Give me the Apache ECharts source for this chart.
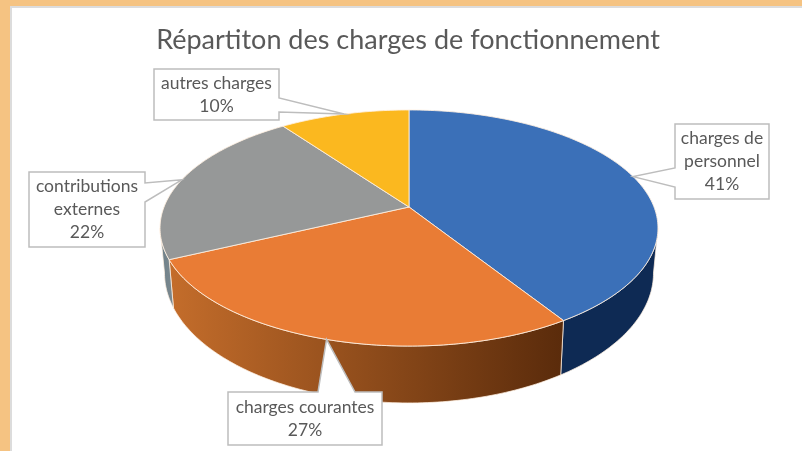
<!DOCTYPE html>
<html>
<head>
<meta charset="utf-8">
<style>
html, body { margin: 0; padding: 0; background: #fff; }
#chart { width: 802px; height: 451px; }
</style>
<script src="https://cdn.jsdelivr.net/npm/echarts@6/dist/echarts.min.js"></script>
</head>
<body>
<div id="chart"></div>
<script>
// data
const categories = ['charges de\npersonnel', 'charges courantes', 'contributions\nexternes', 'autres charges']
const values = [41, 27, 22, 10]

// slice colours
const topColors = ['#3b70b8', '#e97c35', '#969898', '#fbb81f']
const wallColors = [
    ['#0e2a54', '#0e2a54'],
    ['#c46d2b', '#5a2b0b'],
    ['#6d7f88', '#7d8a90'],
    ['#b98a16', '#b98a16']
]

// callout boxes: x, y, w, h, side of the pointer, pointer base on that side
const boxes = [
    { x: 675, y: 124, w: 94, h: 75, side: 'left', a: 168, b: 187 },
    { x: 228, y: 392, w: 154, h: 53, side: 'top', a: 318, b: 355 },
    { x: 29, y: 172, w: 116, h: 75, side: 'right', a: 183, b: 202 },
    { x: 154, y: 69, w: 125, h: 51, side: 'right', a: 98, b: 112 }
]

// tilted disc: perspective projection of a circle
const cx = 409, cy = 207
const ra = 245, rb = 114.3, k = 0.178
const bottomScaleX = 0.982, bottomScaleY = 1.1, bottomY = 250

const total = values.reduce((a, b) => a + b, 0)
const ranges = []
let sum = 0
values.forEach(v => {
    ranges.push([sum / total * 360, (sum + v) / total * 360])
    sum += v
})

function project(deg) {
    let t = deg * Math.PI / 180
    let X = Math.sin(t), Y = -Math.cos(t)
    let w = 1 - k * Y
    return [ra * X / w, rb * Y / w]
}
function topPoint(deg) {
    let p = project(deg)
    return [cx + p[0], cy + p[1]]
}
function bottomPoint(deg) {
    let p = project(deg)
    return [cx + p[0] * bottomScaleX, bottomY + p[1] * bottomScaleY]
}
function arc(fn, from, to) {
    let pts = []
    let n = Math.max(2, Math.ceil(Math.abs(to - from)))
    for (let i = 0; i <= n; i++) pts.push(fn(from + (to - from) * i / n))
    return pts
}

// only the front of the side wall is visible
const wallFrom = Math.acos(-k) * 180 / Math.PI
const wallTo = 360 - wallFrom

function renderWall(params) {
    let r = ranges[params.dataIndex]
    let from = Math.max(r[0], wallFrom), to = Math.min(r[1], wallTo)
    if (to <= from) return { type: 'group', children: [] }
    let pts = arc(topPoint, from, to).concat(arc(bottomPoint, to, from))
    let c = wallColors[params.dataIndex]
    return {
        type: 'polygon',
        shape: { points: pts },
        style: {
            fill: new echarts.graphic.LinearGradient(0, 0, 1, 0, [
                { offset: 0, color: c[0] },
                { offset: 1, color: c[1] }
            ]),
            stroke: 'rgba(255,240,225,0.75)',
            lineWidth: 1
        }
    }
}

function renderTop(params) {
    let r = ranges[params.dataIndex]
    let pts = [[cx, cy]].concat(arc(topPoint, r[0], r[1]))
    return {
        type: 'polygon',
        shape: { points: pts },
        style: { fill: topColors[params.dataIndex], stroke: 'rgba(255,240,225,0.85)', lineWidth: 1 }
    }
}

function renderCallout(params, api) {
    let i = params.dataIndex
    let b = boxes[i]
    let r = ranges[i]
    let tip = topPoint((r[0] + r[1]) / 2)
    let x2 = b.x + b.w, y2 = b.y + b.h
    let pts
    if (b.side === 'left') {
        pts = [[b.x, b.y], [x2, b.y], [x2, y2], [b.x, y2], [b.x, b.b], tip, [b.x, b.a]]
    } else if (b.side === 'right') {
        pts = [[b.x, b.y], [x2, b.y], [x2, b.a], tip, [x2, b.b], [x2, y2], [b.x, y2]]
    } else {
        pts = [[b.x, b.y], [b.a, b.y], tip, [b.b, b.y], [x2, b.y], [x2, y2], [b.x, y2]]
    }
    return {
        type: 'group',
        children: [{
            type: 'polygon',
            shape: { points: pts },
            style: { fill: '#fff', stroke: '#bdbdbd', lineWidth: 1.5 }
        }, {
            type: 'text',
            style: {
                x: b.x + b.w / 2,
                y: b.y + b.h / 2,
                text: categories[i] + '\n' + api.value(1) + '%',
                fill: '#595959',
                font: '17.5px Lato',
                lineHeight: 23,
                align: 'center',
                verticalAlign: 'middle'
            }
        }]
    }
}

const seriesData = values.map((v, i) => [i, v])

const chart = echarts.init(document.getElementById('chart'), null, { renderer: 'canvas' })
chart.setOption({
    animation: false,
    backgroundColor: '#fff',
    title: {
        text: 'Répartiton des charges de fonctionnement',
        left: 403,
        top: 22,
        textAlign: 'center',
        textStyle: { fontFamily: 'Lato', fontSize: 27, fontWeight: 'normal', color: '#595959' }
    },
    graphic: [
        { type: 'rect', z: -1, shape: { x: 0, y: 0, width: 802, height: 6 }, style: { fill: '#f5c382' } },
        { type: 'rect', z: -1, shape: { x: 0, y: 0, width: 10, height: 451 }, style: { fill: '#f5c382' } },
        { type: 'rect', z: -1, shape: { x: 10, y: 6, width: 792, height: 2 }, style: { fill: '#dcdcdc' } },
        { type: 'rect', z: -1, shape: { x: 10, y: 6, width: 2, height: 445 }, style: { fill: '#dcdcdc' } }
    ],
    series: [
        { type: 'custom', coordinateSystem: 'none', z: 2, silent: true, renderItem: renderWall, data: seriesData },
        { type: 'custom', coordinateSystem: 'none', z: 3, silent: true, renderItem: renderTop, data: seriesData },
        { type: 'custom', coordinateSystem: 'none', z: 4, silent: true, renderItem: renderCallout, data: seriesData }
    ]
})
</script>
</body>
</html>
